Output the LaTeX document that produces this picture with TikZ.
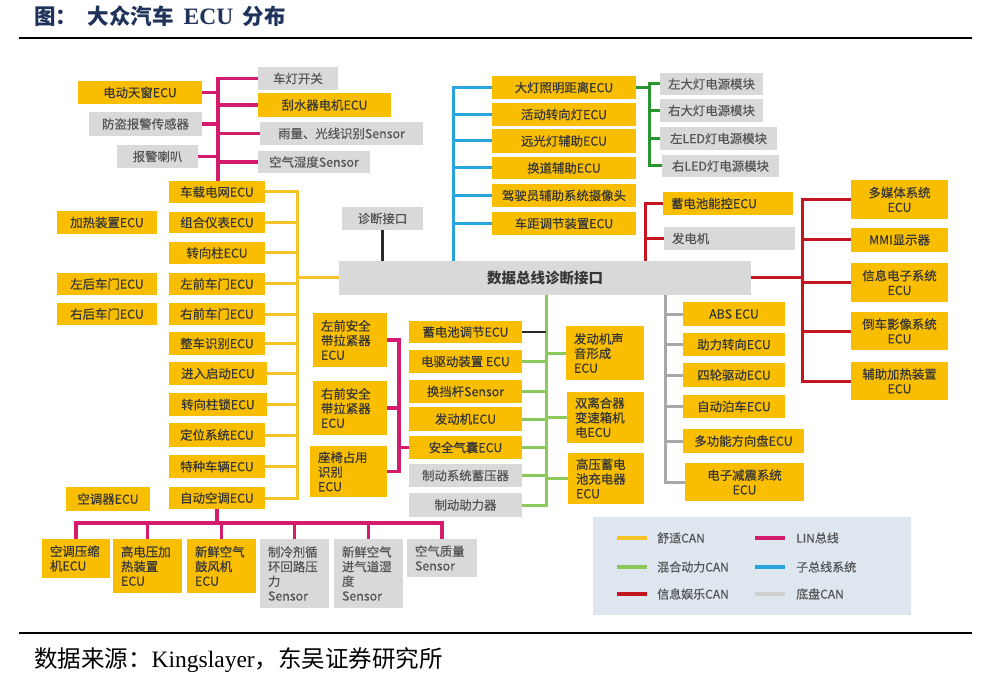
\documentclass[tikz,border=0pt]{standalone}
\usepackage{fontspec}
\setmainfont{Noto Sans CJK SC}
\newfontfamily\serifl{Liberation Serif}
\newfontfamily\bxfam{Noto Sans CJK SC}[FakeBold=0.45]
\definecolor{cyel}{RGB}{250,190,0}
\definecolor{cgry}{RGB}{217,217,217}
\definecolor{ctxt}{RGB}{55,55,55}
\definecolor{cgtxt}{RGB}{85,85,85}
\definecolor{lyel}{RGB}{247,196,40}
\definecolor{lmag}{RGB}{212,28,110}
\definecolor{lblu}{RGB}{40,165,220}
\definecolor{lgrn}{RGB}{140,200,90}
\definecolor{ldgrn}{RGB}{40,150,45}
\definecolor{lred}{RGB}{195,22,32}
\definecolor{lgry}{RGB}{168,168,168}
\definecolor{lblk}{RGB}{40,40,40}
\definecolor{legbg}{RGB}{222,230,240}
\definecolor{ctitle}{RGB}{30,50,90}
\newcommand\bxfont{\bxfam\fontsize{12.4}{14.6}\selectfont}
\newcommand\mybox[7]{%
 \pgfmathsetmacro\bw{#4-#2}\pgfmathsetmacro\bh{#5-#3}%
 \pgfmathsetmacro\cx{(#2+#4)/2}\pgfmathsetmacro\cy{(#3+#5)/2}%
 \node[#6,minimum width=\bw pt,minimum height=\bh pt] (#1) at (\cx,\cy) {#7};}
\newcommand\myboxl[7]{%
 \pgfmathsetmacro\bw{#4-#2}\pgfmathsetmacro\bh{#5-#3}%
 \pgfmathsetmacro\tw{#4-#2-16}%
 \pgfmathsetmacro\cx{(#2+#4)/2}\pgfmathsetmacro\cy{(#3+#5)/2}%
 \node[#6,minimum width=\bw pt,minimum height=\bh pt,align=left,text width=\tw pt,inner xsep=8pt] (#1) at (\cx,\cy) {#7};}
\begin{document}
\begin{tikzpicture}[x=1pt,y=-1pt,
  yb/.style={fill=cyel,text=ctxt,inner sep=0pt,outer sep=0pt,font=\bxfont},
  gb/.style={fill=cgry,text=cgtxt,inner sep=0pt,outer sep=0pt,font=\bxfont},
  comf/.style={draw=lyel,line width=3pt},
  lin/.style={draw=lmag,line width=3.3pt},
  sub/.style={draw=lblu,line width=3pt},
  hyb/.style={draw=lgrn,line width=3pt},
  dgr/.style={draw=ldgrn,line width=3pt},
  inf/.style={draw=lred,line width=3pt},
  chs/.style={draw=lgry,line width=3pt},
  blk/.style={draw=lblk,line width=3pt},
  legtxt/.style={anchor=west,text=cgtxt,font=\bxfam\fontsize{12}{14}\selectfont,inner sep=0pt}]
\useasboundingbox (0,0) rectangle (1000,684);
\fill[white] (0,0) rectangle (1000,684);

% title and footer
\node[anchor=west,text=ctitle,font=\fontsize{21.5}{25}\selectfont\bfseries,inner sep=0pt] (title) at (34,16) {图：\hspace{0.5em}大众汽车\hspace{0.45em}{\serifl\bfseries\fontsize{23.5}{25}\selectfont ECU}\hspace{0.45em}分布};
\draw[black,line width=2.6pt] (19,38) -- (972,38);
\draw[black,line width=2.6pt] (19,633) -- (972,633);
\node[anchor=west,text=black,font=\fontsize{23.5}{27}\selectfont,inner sep=0pt] (foot) at (34,660) {数据来源：{\serifl Kingslayer}，东吴证券研究所};

% main bus
\mybox{bus}{339}{261}{751}{295}{gb,text=ctxt,font=\fontsize{14.5}{17}\selectfont\bfseries}{数据总线诊断接口}
\mybox{zd}{342}{207}{423}{230}{gb}{诊断接口}

% top-left LIN group
\mybox{tc}{78}{81}{202}{104}{yb}{电动天窗ECU}
\mybox{fd}{89}{112}{202}{136}{gb}{防盗报警传感器}
\mybox{lb}{117}{145}{198}{168}{gb}{报警喇叭}
\mybox{cd}{258}{67}{338}{90}{gb}{车灯开关}
\mybox{gs}{258}{93}{391}{117}{yb}{刮水器电机ECU}
\mybox{yl}{260}{122}{423}{145}{gb}{雨量、光线识别Sensor}
\mybox{kq}{258}{151}{370}{173}{gb}{空气湿度Sensor}

% comfort column
\mybox{cz}{169}{181}{265}{203}{yb}{车载电网ECU}
\mybox{zh}{169}{212}{265}{233}{yb}{组合仪表ECU}
\mybox{zx}{169}{242}{265}{264}{yb}{转向柱ECU}
\mybox{zq}{169}{273}{265}{295}{yb}{左前车门ECU}
\mybox{yq}{169}{303}{265}{325}{yb}{右前车门ECU}
\mybox{zc}{169}{332}{265}{355}{yb}{整车识别ECU}
\mybox{jr}{169}{362}{267}{385}{yb}{进入启动ECU}
\mybox{zs}{169}{393}{267}{416}{yb}{转向柱锁ECU}
\mybox{dw}{169}{423}{265}{447}{yb}{定位系统ECU}
\mybox{tz}{169}{455}{265}{478}{yb}{特种车辆ECU}
\mybox{zk}{169}{487}{265}{509}{yb}{自动空调ECU}
\mybox{jrz}{57}{211}{157}{234}{yb}{加热装置ECU}
\mybox{zh2}{57}{273}{157}{295}{yb}{左后车门ECU}
\mybox{yh2}{57}{303}{157}{325}{yb}{右后车门ECU}
\mybox{ktq}{66}{487}{150}{511}{yb}{空调器ECU}

% bottom LIN group
\myboxl{a1}{42}{539}{110}{578}{yb}{空调压缩\\机ECU}
\myboxl{a2}{113}{539}{182}{593}{yb}{高电压加\\热装置\\ECU}
\myboxl{a3}{187}{539}{256}{593}{yb}{新鲜空气\\鼓风机\\ECU}
\myboxl{a4}{260}{539}{329}{608}{gb}{制冷剂循\\环回路压\\力\\Sensor}
\myboxl{a5}{334}{539}{403}{608}{gb}{新鲜空气\\进气道湿\\度\\Sensor}
\myboxl{a6}{407}{539}{477}{577}{gb}{空气质量\\Sensor}

% sub-bus (blue) group
\mybox{b1}{492}{76}{636}{99}{yb}{大灯照明距离ECU}
\mybox{b2}{492}{103}{636}{126}{yb}{活动转向灯ECU}
\mybox{b3}{492}{129}{636}{153}{yb}{远光灯辅助ECU}
\mybox{b4}{492}{157}{636}{179}{yb}{换道辅助ECU}
\mybox{b5}{492}{184}{636}{207}{yb}{驾驶员辅助系统摄像头}
\mybox{b6}{492}{212}{636}{235}{yb}{车距调节装置ECU}
\mybox{g1}{660}{73}{763}{95}{gb}{左大灯电源模块}
\mybox{g2}{660}{99}{763}{122}{gb}{右大灯电源模块}
\mybox{g3}{660}{127}{777}{150}{gb}{左LED灯电源模块}
\mybox{g4}{662}{155}{779}{177}{gb}{右LED灯电源模块}

% infotainment
\myboxl{r1}{663}{192}{793}{215}{yb}{蓄电池能控ECU}
\myboxl{r2}{664}{227}{795}{250}{gb}{发电机}
\mybox{m1}{851}{180}{948}{219}{yb,align=center}{多媒体系统\\ECU}
\mybox{m2}{851}{228}{948}{252}{yb}{MMI显示器}
\mybox{m3}{851}{263}{948}{302}{yb,align=center}{信息电子系统\\ECU}
\mybox{m4}{851}{312}{948}{350}{yb,align=center}{倒车影像系统\\ECU}
\mybox{m5}{851}{362}{948}{400}{yb,align=center}{辅助加热装置\\ECU}

% chassis
\mybox{c1}{683}{302}{785}{326}{yb}{ABS ECU}
\mybox{c2}{683}{333}{785}{356}{yb}{助力转向ECU}
\mybox{c3}{683}{363}{785}{387}{yb}{四轮驱动ECU}
\mybox{c4}{683}{395}{785}{418}{yb}{自动泊车ECU}
\mybox{c5}{683}{429}{804}{453}{yb}{多功能方向盘ECU}
\mybox{c6}{685}{463}{804}{501}{yb,align=center}{电子减震系统\\ECU}

% hybrid
\mybox{h1}{409}{321}{522}{343}{yb}{蓄电池调节ECU}
\mybox{h2}{409}{350}{522}{373}{yb}{电驱动装置 ECU}
\mybox{h3}{409}{380}{522}{403}{yb}{换挡杆Sensor}
\mybox{h4}{409}{407}{522}{431}{yb}{发动机ECU}
\mybox{h5}{409}{436}{522}{459}{yb}{安全气囊ECU}
\mybox{h6}{409}{464}{522}{487}{gb}{制动系统蓄压器}
\mybox{h7}{409}{493}{522}{517}{gb}{制动助力器}
\myboxl{h8}{566}{326}{644}{380}{yb}{发动机声\\音形成\\ECU}
\myboxl{h9}{567}{392}{644}{443}{yb}{双离合器\\变速箱机\\电ECU}
\myboxl{h10}{568}{453}{644}{504}{yb}{高压蓄电\\池充电器\\ECU}

% airbag LIN
\myboxl{s1}{313}{313}{387}{367}{yb}{左前安全\\带拉紧器\\ECU}
\myboxl{s2}{313}{381}{387}{435}{yb}{右前安全\\带拉紧器\\ECU}
\myboxl{s3}{310}{446}{387}{497}{yb}{座椅占用\\识别\\ECU}

% ---------- connectors ----------
\coordinate (Lx) at (218,0);
\draw[lin] (cd.west) -| (Lx |- cz.north);
\foreach \n in {gs,yl,kq} \draw[lin] (\n.west) -- (\n.west -| Lx);
\foreach \n in {tc,fd,lb} \draw[lin] (\n.east) -- (\n.east -| Lx);

\coordinate (Cx) at (297,0);
\draw[comf] (cz.east) -| (Cx |- zk.east) -- (zk.east);
\foreach \n in {zh,zx,zq,yq,zc,jr,zs,dw,tz} \draw[comf] (\n.east) -- (\n.east -| Cx);
\coordinate (cj) at (297,278);
\draw[comf] (cj) -- (cj -| bus.west);

\draw[blk] (zd.south) -- (zd.south |- bus.north);

\coordinate (Bx) at (453,0);
\draw[sub] (b1.west) -| (Bx |- bus.north);
\foreach \n in {b2,b3,b4,b5,b6} \draw[sub] (\n.west) -- (\n.west -| Bx);

\coordinate (Gx) at (649,0);
\draw[dgr] (g1.west) -| (Gx |- g4.west) -- (g4.west);
\foreach \n in {g2,g3} \draw[dgr] (\n.west) -- (\n.west -| Gx);
\draw[dgr] (b1.east) -- (b1.east -| Gx);

\coordinate (Rx) at (645,0);
\draw[inf] (r1.west) -| (Rx |- bus.north);
\draw[inf] (r2.west) -- (r2.west -| Rx);
\coordinate (R2x) at (802,0);
\draw[inf] (bus.east) -- (bus.east -| R2x);
\draw[inf] (m1.west) -| (R2x |- m5.west) -- (m5.west);
\foreach \n in {m2,m3,m4} \draw[inf] (\n.west) -- (\n.west -| R2x);

\coordinate (Kx) at (665,0);
\draw[chs] (Kx |- bus.south) -- (Kx |- c6.west) -- (c6.west);
\foreach \n in {c1,c2,c3,c4,c5} \draw[chs] (\n.west) -- (\n.west -| Kx);

\coordinate (Hx) at (546,0);
\draw[hyb] (Hx |- bus.south) -- (Hx |- h7.east) -- (h7.east);
\foreach \n in {h2,h3,h4,h5,h6} \draw[hyb] (\n.east) -- (\n.east -| Hx);
\foreach \n in {h8,h9,h10} \draw[hyb] (\n.west) -- (\n.west -| Hx);
\draw[blk,line width=2.2pt] (h1.east) -- (h1.east -| Hx);

\coordinate (Sx) at (399,0);
\draw[lin] (s1.east) -| (Sx |- s3.east) -- (s3.east);
\draw[lin] (s2.east) -- (s2.east -| Sx);
\draw[lin] (Sx |- h5.west) -- (h5.west);

\coordinate (Bh) at (0,523);
\draw[lin] (a1.north) |- (Bh -| a6.north) -- (a6.north);
\foreach \n in {a2,a3,a4,a5} \draw[lin] (\n.north) -- (\n.north |- Bh);
\draw[lin] (zk.south) -- (zk.south |- Bh);

% legend
\fill[legbg] (593,517) rectangle (911,615);
\draw[comf,line width=4pt] (617,538) -- (647,538);
\draw[hyb,line width=4pt] (617,567) -- (647,567);
\draw[inf,line width=4pt] (617,594) -- (647,594);
\draw[lin,line width=4pt] (755,538) -- (785,538);
\draw[sub,line width=4pt] (755,567) -- (785,567);
\draw[chs,draw=cgry!90!gray,line width=4pt] (755,594) -- (785,594);
\node[legtxt] (k1) at (657,538) {舒适CAN};
\node[legtxt] (k2) at (657,567) {混合动力CAN};
\node[legtxt] (k3) at (657,594) {信息娱乐CAN};
\node[legtxt] (k4) at (796,538) {LIN总线};
\node[legtxt] (k5) at (796,567) {子总线系统};
\node[legtxt] (k6) at (796,594) {底盘CAN};
\end{tikzpicture}
\end{document}
